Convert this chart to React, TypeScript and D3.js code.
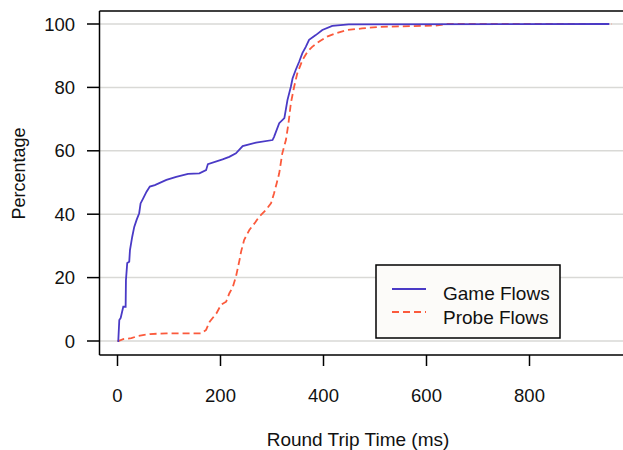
import React from "react";
import * as d3 from "d3";

const gameMs = [0, 1.5, 3.5, 6.2, 11.2, 15.8, 16.4, 18.9, 22.8, 24.2, 28.6, 32.5, 37.1, 42.1, 44.8, 49.9, 56.4, 62.8, 72.5, 95, 114, 137, 159, 172, 175.5, 204, 217, 230, 243, 269, 301, 304, 314, 324, 330, 336.6, 340, 346, 352.7, 359, 365.6, 372, 385, 397.7, 417, 449, 955];
const gamePct = [0, 0, 6.6, 7.3, 10.8, 10.8, 19.2, 24.6, 25, 28.7, 32.9, 36, 38.2, 40.3, 43.4, 45, 47.1, 48.7, 49.2, 50.8, 51.8, 52.7, 52.9, 53.9, 55.8, 57.3, 58.1, 59.2, 61.5, 62.6, 63.4, 64.4, 68.7, 70.3, 76, 80.2, 82.9, 85.5, 88.1, 90.8, 92.8, 95, 96.5, 98.1, 99.4, 99.9, 100];

const probeMs = [0, 1.5, 11, 27, 40, 63, 95, 163, 172, 179, 192, 201, 211, 217, 224, 230, 237, 240, 246, 256, 266, 275, 288, 298, 304, 309, 314, 320, 327, 332, 336.6, 343, 349, 359, 369, 378, 391, 407, 424, 446, 475, 507, 617, 640, 960];
const probePct = [0, 0, 0.6, 0.9, 1.6, 2.2, 2.4, 2.4, 3.5, 6.1, 8.7, 11.4, 12.4, 15, 17.1, 20.3, 25.6, 28.2, 31.9, 35, 37.1, 39.2, 41.3, 43.4, 46.6, 49.7, 52.9, 59.2, 63.4, 68.7, 75, 80.2, 84.4, 88.6, 91.3, 92.8, 94.4, 96, 97.1, 98.1, 98.6, 99.1, 99.5, 100, 100];

const xTicks = [0, 200, 400, 600, 800];
const yTicks = [0, 20, 40, 60, 80, 100];
const seriesNames = ["Game Flows", "Probe Flows"];

const W = 623;
const H = 450;
const FONT = "Arial, 'Liberation Sans', sans-serif";
const BLUE = "#4a3ac6";
const RED = "#fb5a3c";

export default function App() {
  const x = d3.scaleLinear().domain([0, 200]).range([117.5, 220.5]);
  const y = d3.scaleLinear().domain([0, 100]).range([341, 24]);
  const frameL = 99.5;
  const frameT = 11;
  const frameB = 355;

  const line = d3
    .line<[number, number]>()
    .x((d) => x(d[0]))
    .y((d) => y(d[1]))
    .curve(d3.curveLinear);

  const game: [number, number][] = gameMs.map((m, i) => [m, gamePct[i]]);
  const probe: [number, number][] = probeMs.map((m, i) => [m, probePct[i]]);

  return (
    <svg
      width={W}
      height={H}
      style={{ position: "absolute", left: 0, top: 0, background: "#fff" }}
      fontFamily={FONT}
    >
      <rect x={0} y={0} width={W} height={H} fill="#fff" />
      {yTicks.map((t) => (
        <line key={"g" + t} x1={frameL} x2={W} y1={y(t)} y2={y(t)} stroke="#d9d9d6" strokeWidth={1.5} />
      ))}
      <path d={line(probe) || ""} fill="none" stroke={RED} strokeWidth={1.8} strokeDasharray="7,4" />
      <path d={line(game) || ""} fill="none" stroke={BLUE} strokeWidth={1.8} />
      <line x1={frameL} x2={W} y1={frameT} y2={frameT} stroke="#000" strokeWidth={1.5} />
      <line x1={frameL} x2={frameL} y1={frameT} y2={frameB} stroke="#000" strokeWidth={1.5} />
      <line x1={frameL} x2={W} y1={frameB} y2={frameB} stroke="#000" strokeWidth={1.5} />
      {yTicks.map((t) => (
        <g key={"y" + t}>
          <line x1={87} x2={frameL} y1={y(t)} y2={y(t)} stroke="#000" strokeWidth={1.5} />
          <text x={75} y={y(t) + 6.5} textAnchor="end" fontSize={18.5} fill="#111">
            {t}
          </text>
        </g>
      ))}
      {xTicks.map((t) => (
        <g key={"x" + t}>
          <line x1={x(t)} x2={x(t)} y1={frameB} y2={366} stroke="#000" strokeWidth={1.5} />
          <text x={x(t)} y={401.5} textAnchor="middle" fontSize={18.5} fill="#111">
            {t}
          </text>
        </g>
      ))}
      <text x={358} y={446} textAnchor="middle" fontSize={19} fill="#111">
        Round Trip Time (ms)
      </text>
      <text
        transform={`translate(24.5,173.5) rotate(-90)`}
        textAnchor="middle"
        fontSize={18}
        fill="#111"
      >
        Percentage
      </text>
      <rect x={376} y={265} width={184} height={73} fill="#fcfbf9" stroke="#000" strokeWidth={1.5} />
      <line x1={392} x2={426} y1={289} y2={289} stroke={BLUE} strokeWidth={1.8} />
      <line x1={392} x2={426} y1={312} y2={312} stroke={RED} strokeWidth={1.8} strokeDasharray="7,4" />
      <text x={443} y={300} fontSize={19} fill="#111">
        {seriesNames[0]}
      </text>
      <text x={443} y={324} fontSize={19} fill="#111">
        {seriesNames[1]}
      </text>
    </svg>
  );
}
